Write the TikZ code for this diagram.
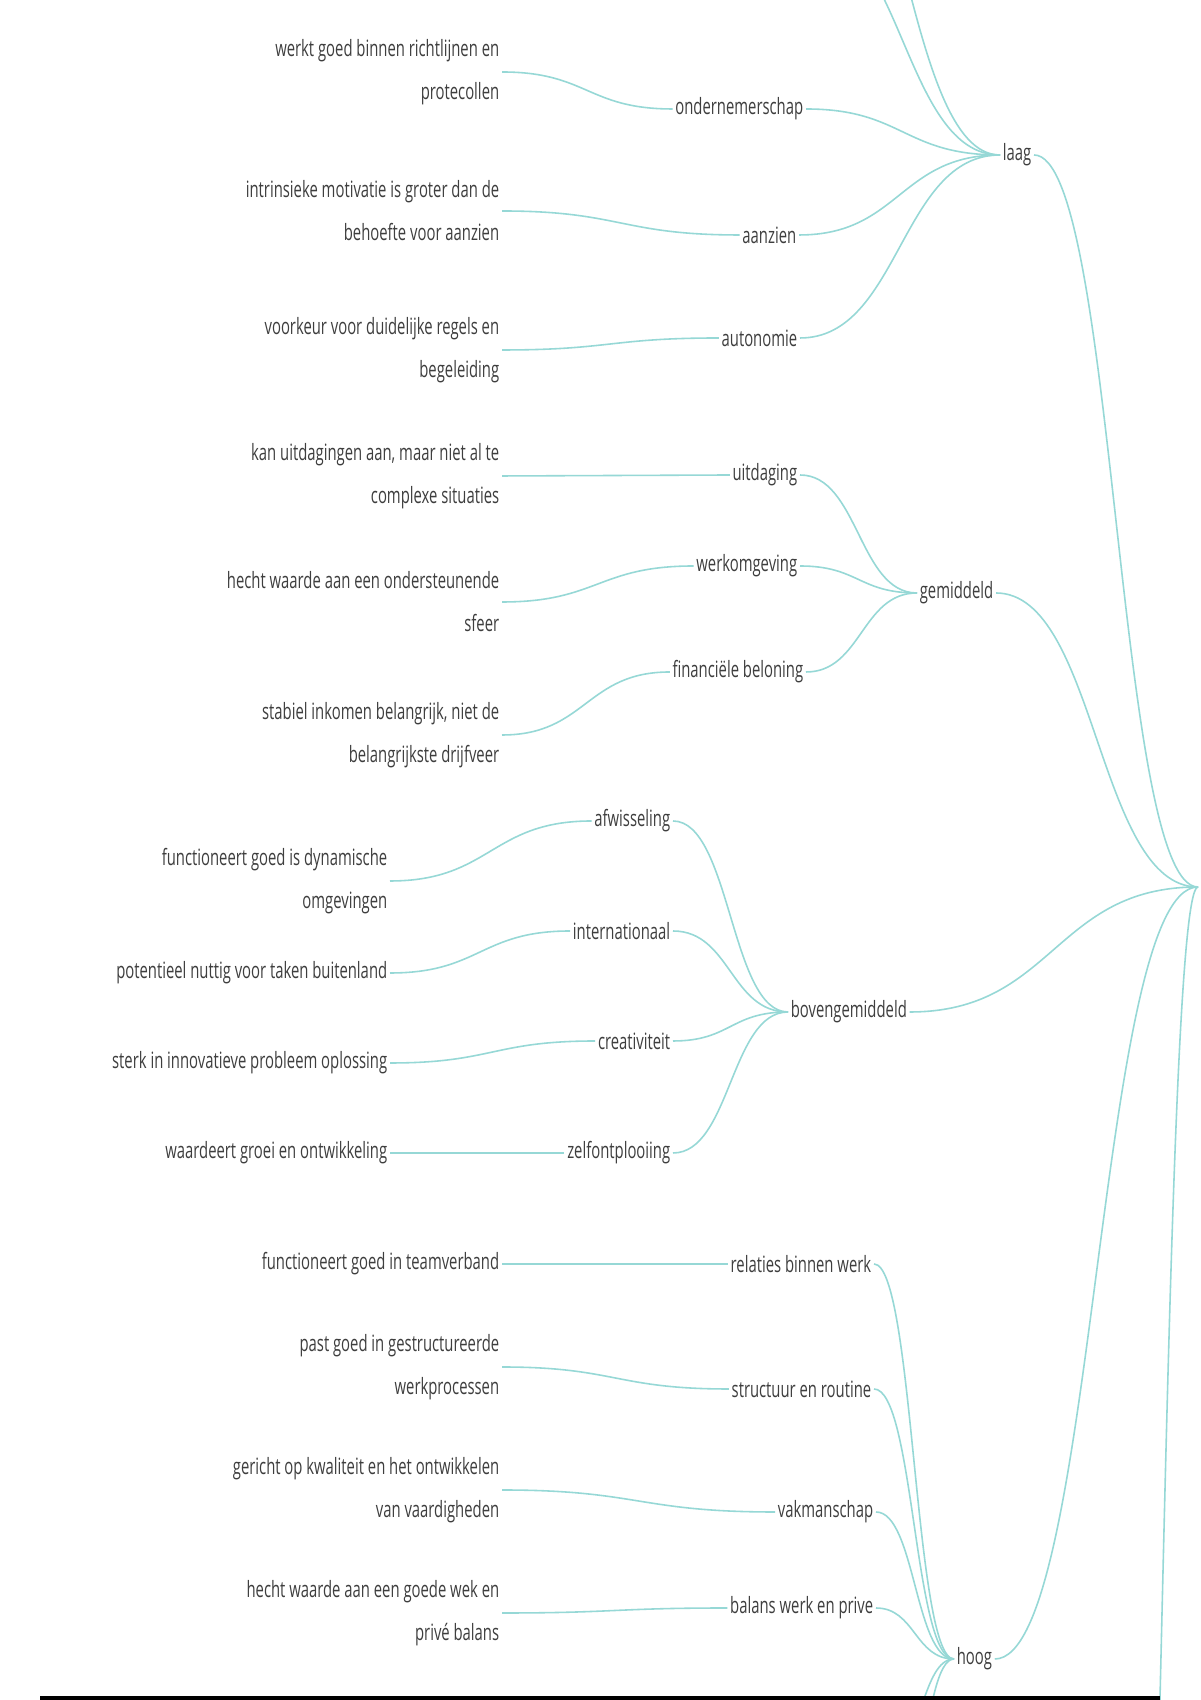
\documentclass[tikz,border=0pt]{standalone}
\usepackage{fontspec}
\setmainfont[FakeStretch=0.66]{Open Sans}
\usepackage{xcolor}
\usepackage{tikz}
\usetikzlibrary{calc}
\definecolor{linkteal}{RGB}{150,216,214}
\definecolor{labelgray}{RGB}{62,62,62}
\newcommand{\mapfont}{\fontsize{6.4}{12.2}\selectfont}
\tikzset{
  leaf/.style={anchor=east, align=right, inner sep=0.6pt, font=\mapfont, text=labelgray},
  topic/.style={anchor=east, inner sep=0.6pt, font=\mapfont, text=labelgray},
  level/.style={anchor=west, inner sep=0.6pt, font=\mapfont, text=labelgray},
  link/.style={draw=linkteal, line width=0.45pt,
    to path={let \p1=(\tikztostart), \p2=(\tikztotarget) in
      .. controls ({0.5*\x1+0.5*\x2},\y1) and ({0.5*\x1+0.5*\x2},\y2) .. (\tikztotarget)}}
}

\begin{document}
\begin{tikzpicture}
\useasboundingbox (0,0) rectangle (12,17);
\fill[white] (0,0) rectangle (12,17);
\clip (0,0) rectangle (12,17);
% level nodes
\coordinate (root) at (11.98,8.13);
\node[level] (laag) at (10.00,15.45) {laag};
\node[level] (gemiddeld) at (9.17,11.07) {gemiddeld};
\node[level] (boven) at (7.88,6.88) {bovengemiddeld};
\node[level] (hoog) at (9.54,0.41) {hoog};
% topics
\node[topic] (ondernemerschap) at (8.06,15.91) {ondernemerschap};
\node[topic] (aanzien) at (7.99,14.65) {aanzien};
\node[topic] (autonomie) at (8.00,13.62) {autonomie};
\node[topic] (uitdaging) at (8.00,12.25) {uitdaging};
\node[topic] (werkomgeving) at (8.00,11.34) {werkomgeving};
\node[topic] (beloning) at (8.06,10.28) {financiële beloning};
\node[topic] (afwisseling) at (6.73,8.79) {afwisseling};
\node[topic] (internationaal) at (6.73,7.69) {internationaal};
\node[topic] (creativiteit) at (6.73,6.59) {creativiteit};
\node[topic] (zelfontplooiing) at (6.73,5.47) {zelfontplooiing};
\node[topic] (relaties) at (8.74,4.36) {relaties binnen werk};
\node[topic] (structuur) at (8.74,3.11) {structuur en routine};
\node[topic] (vakmanschap) at (8.76,1.88) {vakmanschap};
\node[topic] (balans) at (8.76,0.92) {balans werk en prive};
% leaves
\node[leaf] (richtlijnen) at (5.02,16.28) {werkt goed binnen richtlijnen en\\protecollen};
\node[leaf] (motivatie) at (5.02,14.89) {intrinsieke motivatie is groter dan de\\behoefte voor aanzien};
\node[leaf] (regels) at (5.02,13.50) {voorkeur voor duidelijke regels en\\begeleiding};
\node[leaf] (situaties) at (5.02,12.24) {kan uitdagingen aan, maar niet al te\\complexe situaties};
\node[leaf] (sfeer) at (5.02,10.98) {hecht waarde aan een ondersteunende\\sfeer};
\node[leaf] (inkomen) at (5.02,9.65) {stabiel inkomen belangrijk, niet de\\belangrijkste drijfveer};
\node[leaf] (dynamisch) at (3.90,8.19) {functioneert goed is dynamische\\omgevingen};
\node[leaf] (buitenland) at (3.90,7.27) {potentieel nuttig voor taken buitenland};
\node[leaf] (innovatie) at (3.90,6.37) {sterk in innovatieve probleem oplossing};
\node[leaf] (groei) at (3.90,5.47) {waardeert groei en ontwikkeling};
\node[leaf] (team) at (5.02,4.36) {functioneert goed in teamverband};
\node[leaf] (processen) at (5.02,3.33) {past goed in gestructureerde\\werkprocessen};
\node[leaf] (kwaliteit) at (5.02,2.10) {gericht op kwaliteit en het ontwikkelen\\van vaardigheden};
\node[leaf] (prive) at (5.02,0.87) {hecht waarde aan een goede wek en\\privé balans};
% branches running off the page
\coordinate (laagUp1) at (8.06,17.72);
\coordinate (laagUp2) at (8.06,19.23);
\coordinate (hoogDown1) at (8.90,-0.50);
\coordinate (hoogDown2) at (8.90,-1.60);
\coordinate (rootDown) at (11.22,-8.10);
% links to the root
\draw[link] (laag.east) to (root);
\draw[link] (gemiddeld.east) to (root);
\draw[link] (boven.east) to (root);
\draw[link] (hoog.east) to (root);
\draw[link] (rootDown) to (root);
% laag
\draw[link] (laagUp1) to (laag.west);
\draw[link] (laagUp2) to (laag.west);
\draw[link] (ondernemerschap.east) to (laag.west);
\draw[link] (aanzien.east) to (laag.west);
\draw[link] (autonomie.east) to (laag.west);
\draw[link] (richtlijnen.east) to (ondernemerschap.west);
\draw[link] (motivatie.east) to (aanzien.west);
\draw[link] (regels.east) to (autonomie.west);
% gemiddeld
\draw[link] (uitdaging.east) to (gemiddeld.west);
\draw[link] (werkomgeving.east) to (gemiddeld.west);
\draw[link] (beloning.east) to (gemiddeld.west);
\draw[link] (situaties.east) to (uitdaging.west);
\draw[link] (sfeer.east) to (werkomgeving.west);
\draw[link] (inkomen.east) to (beloning.west);
% bovengemiddeld
\draw[link] (afwisseling.east) to (boven.west);
\draw[link] (internationaal.east) to (boven.west);
\draw[link] (creativiteit.east) to (boven.west);
\draw[link] (zelfontplooiing.east) to (boven.west);
\draw[link] (dynamisch.east) to (afwisseling.west);
\draw[link] (buitenland.east) to (internationaal.west);
\draw[link] (innovatie.east) to (creativiteit.west);
\draw[link] (groei.east) to (zelfontplooiing.west);
% hoog
\draw[link] (relaties.east) to (hoog.west);
\draw[link] (structuur.east) to (hoog.west);
\draw[link] (vakmanschap.east) to (hoog.west);
\draw[link] (balans.east) to (hoog.west);
\draw[link] (hoogDown1) to (hoog.west);
\draw[link] (hoogDown2) to (hoog.west);
\draw[link] (team.east) to (relaties.west);
\draw[link] (processen.east) to (structuur.west);
\draw[link] (kwaliteit.east) to (vakmanschap.west);
\draw[link] (prive.east) to (balans.west);
% bar at the bottom edge
\fill[black] (0.40,0) rectangle (11.60,0.035);
\end{tikzpicture}
\end{document}
